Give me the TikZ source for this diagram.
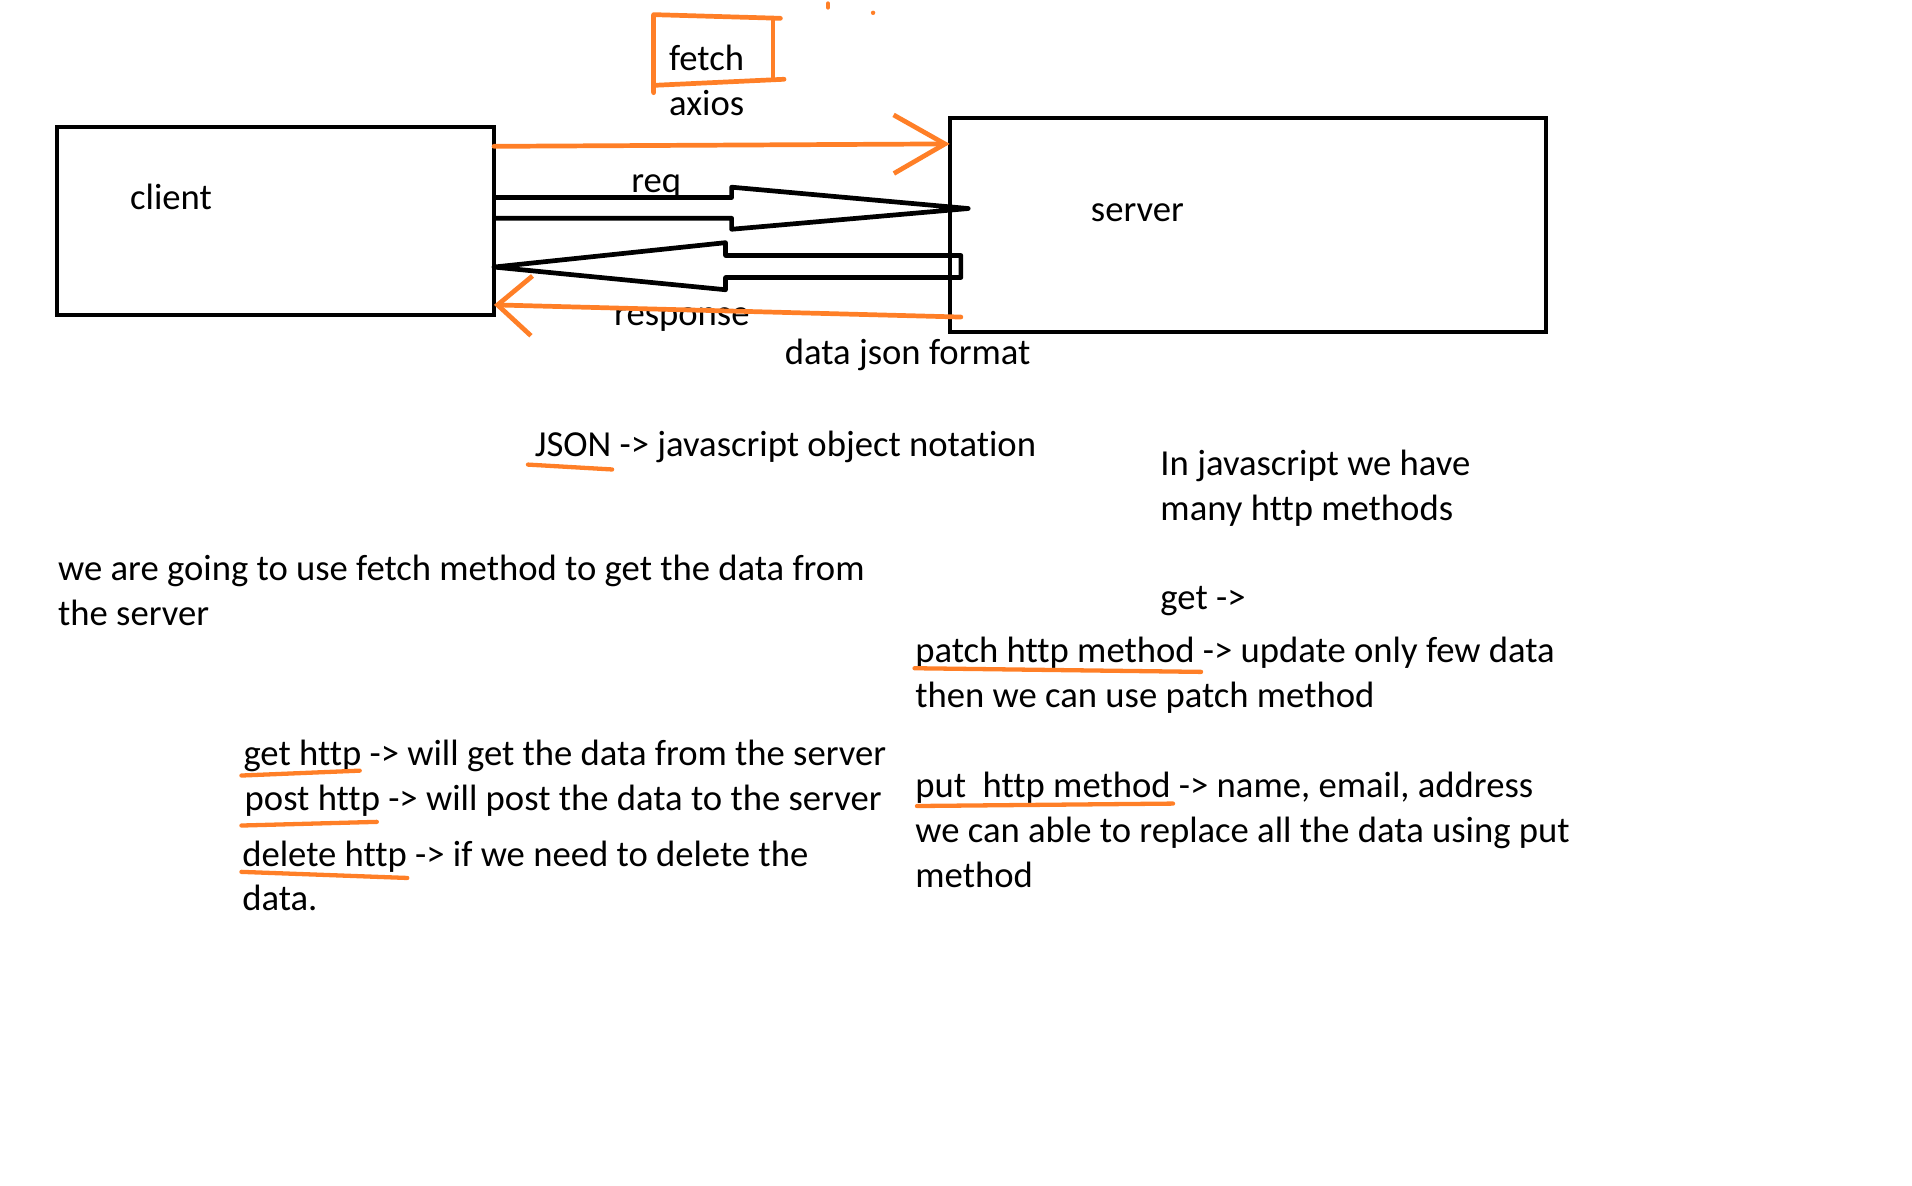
\documentclass[tikz,border=0pt]{standalone}
\usepackage{fontspec}
\setmainfont{Carlito}[Ligatures=NoCommon]
\usetikzlibrary{positioning}
\usetikzlibrary{arrows.meta}
\definecolor{paintorange}{RGB}{255,127,39}
\tikzset{
    mybox/.style = {rectangle, draw=black, line width=0.95pt, inner sep=0pt, outer sep=0pt},
    txt/.style = {inner sep=0pt, anchor=base west, font=\fontsize{8.55pt}{10pt}\selectfont},
    fatarrow/.style = {draw=black, line width=1.1pt, line join=round},
    edgeo/.style = {paintorange, line width=1.1pt, line cap=round, line join=round},
    uline/.style = {paintorange, line width=1pt, line cap=round},
}

\begin{document}
\begin{tikzpicture}[x=0.01cm, y=-0.01cm]
\useasboundingbox (0,0) rectangle (1568,972.6);
\node[mybox, minimum width=3.58cm, minimum height=1.545cm] at (226,181.25) (client) {};
\node[mybox, minimum width=4.89cm, minimum height=1.75cm] at (1023.5,184.5) (server) {};
\node[txt] at (106,172) (clientlbl) {client};
\node[txt] at (894,182) (serverlbl) {server};
%
\node[txt] at (548,58) (fetch) {fetch};
\node[txt] at (548,95) (axios) {axios};
\node[txt] at (517,158) (reqlbl) {req};
\node[txt] at (503,267) (resplbl) {response};
\node[txt] at (643,299) (datafmt) {data json format};
\coordinate (resptail) at (788,260);
%
\draw[edgeo] (536,76) -- (536,12) -- (640,15);
\draw[edgeo] (634,15) -- (634,64);
\draw[edgeo] (536,70) -- (643,65);
\draw[edgeo] (679,3) -- (679,6);
\fill[paintorange] (716,10.5) circle (0.018cm);
%
\draw[edgeo, -{Straight Barb[length=0.42cm, width=0.48cm]}] (client.east |- 0,120) -- (server.west |- 0,118);
\draw[fatarrow] (client.east |- 0,162) -- (600,162) -- (600,153.5) -- (794,171) -- (600,188) -- (600,179) -- (client.east |- 0,179);
\draw[fatarrow] (client.east |- 0,219) -- (595,199) -- (595,209.5) -- (788,209.5) -- (788,227.6) -- (595,227.6) -- (595,237.6) -- cycle;
\draw[edgeo, -{Straight Barb[length=0.28cm, width=0.49cm]}] (resptail) -- (client.east |- 0,250);
%
\node[txt] at (438,374) (json) {JSON -> javascript object notation};
\node[txt] at (951,390) (injs1) {In javascript we have};
\node[txt] at (951,427) (injs2) {many http methods};
\node[txt] at (47,476) (going1) {we are going to use fetch method to get the data from};
\node[txt] at (47,513) (going2) {the server};
\node[txt] at (951,500) (getm) {get ->};
\node[txt] at (750,543) (patch1) {patch http method -> update only few data};
\node[txt] at (750,580) (patch2) {then we can use patch method};
\node[txt] at (199,628) (gethttp) {get http -> will get the data from the server};
\node[txt] at (200,665) (posthttp) {post http -> will post the data to the server};
\node[txt] at (198,711) (delhttp1) {delete http -> if we need to delete the};
\node[txt] at (198,747) (delhttp2) {data.};
\node[txt] at (750,654) (put1) {put\ \ http method -> name, email, address};
\node[txt] at (750,691) (put2) {we can able to replace all the data using put};
\node[txt] at (750,728) (put3) {method};
%
\draw[uline] (433,381) -- (502,385);
\draw[uline] (750,548) -- (985,551);
\draw[uline] (198,636) -- (295,632);
\draw[uline] (198,677) -- (309,674);
\draw[uline] (198,715) -- (334,720);
\draw[uline] (752,661) -- (962,659);

\end{tikzpicture}
\end{document}
